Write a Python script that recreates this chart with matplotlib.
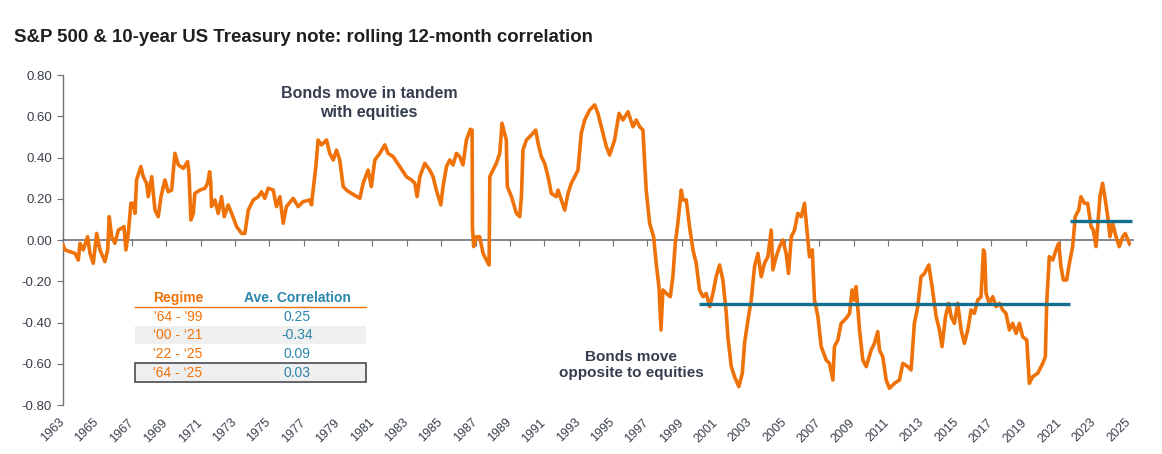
import matplotlib
matplotlib.use("Agg")
import matplotlib.pyplot as plt
import matplotlib.transforms as mtransforms
import numpy as np

plt.rcParams['font.family'] = ['Liberation Sans', 'DejaVu Sans']

# rolling 12-month correlation (x = position on the year axis)
years_a = [1963.00, 1963.12, 1963.41, 1963.70, 1963.89, 1963.99, 1964.18, 1964.43, 1964.57, 1964.76,
           1964.96, 1965.15, 1965.44, 1965.60, 1965.69, 1965.83, 1966.02, 1966.22, 1966.41, 1966.55,
           1966.66, 1966.80, 1966.95, 1967.09, 1967.19, 1967.28, 1967.53, 1967.67, 1967.86, 1967.96,
           1968.16, 1968.35, 1968.54, 1968.70, 1968.93, 1969.12, 1969.32, 1969.51, 1969.71, 1970.00,
           1970.25, 1970.33, 1970.44, 1970.58, 1970.67, 1970.97, 1971.26, 1971.41, 1971.53, 1971.60,
           1971.64, 1971.84, 1972.03, 1972.22, 1972.38, 1972.61, 1972.81, 1973.10, 1973.39, 1973.58,
           1973.78, 1974.07, 1974.36, 1974.55, 1974.74, 1974.94, 1975.23, 1975.42, 1975.62, 1975.81]
corr_a = [-0.024, -0.048, -0.057, -0.065, -0.097, -0.016, -0.048, 0.016, -0.065, -0.113,
          0.032, -0.048, -0.105, -0.048, 0.113, 0.016, -0.016, 0.048, 0.057, 0.065,
          -0.048, 0.032, 0.178, 0.178, 0.129, 0.291, 0.356, 0.307, 0.275, 0.210,
          0.307, 0.145, 0.113, 0.210, 0.291, 0.234, 0.242, 0.420, 0.364, 0.347,
          0.380, 0.323, 0.097, 0.129, 0.226, 0.242, 0.251, 0.275, 0.331, 0.275,
          0.162, 0.194, 0.129, 0.210, 0.113, 0.170, 0.129, 0.065, 0.032, 0.032,
          0.145, 0.194, 0.210, 0.234, 0.202, 0.251, 0.242, 0.162, 0.210, 0.081]

years_b = [1976.00, 1976.39, 1976.68, 1976.97, 1977.36, 1977.46, 1977.55, 1977.71, 1977.84, 1978.04,
           1978.33, 1978.52, 1978.72, 1978.91, 1979.10, 1979.30, 1979.49, 1979.78, 1980.27, 1980.46,
           1980.75, 1980.94, 1981.14, 1981.43, 1981.72, 1981.91, 1982.21, 1982.59, 1982.98, 1983.27,
           1983.47, 1983.60, 1983.76, 1984.05, 1984.34, 1984.53, 1984.72, 1984.98, 1985.11, 1985.31,
           1985.50, 1985.69, 1985.89, 1986.08, 1986.27, 1986.47, 1986.70, 1986.80, 1986.82, 1986.89,
           1987.05, 1987.24, 1987.44, 1987.63, 1987.79, 1987.83, 1988.02, 1988.21, 1988.41, 1988.54]
corr_b = [0.162, 0.202, 0.162, 0.186, 0.194, 0.170, 0.242, 0.356, 0.485, 0.461,
          0.485, 0.420, 0.388, 0.436, 0.388, 0.259, 0.242, 0.226, 0.202, 0.275,
          0.339, 0.259, 0.388, 0.420, 0.461, 0.420, 0.404, 0.356, 0.307, 0.291,
          0.275, 0.210, 0.307, 0.372, 0.339, 0.307, 0.242, 0.170, 0.259, 0.356,
          0.388, 0.364, 0.420, 0.404, 0.364, 0.485, 0.537, 0.533, 0.065, -0.032,
          0.016, 0.016, -0.065, -0.097, -0.121, 0.307, 0.339, 0.372, 0.420, 0.566]

years_c = [1988.79, 1988.85, 1989.09, 1989.38, 1989.57, 1989.67, 1989.76, 1989.96, 1990.25, 1990.50,
           1990.64, 1990.83, 1991.02, 1991.22, 1991.41, 1991.70, 1991.80, 1991.99, 1992.19, 1992.38,
           1992.57, 1992.77, 1992.96, 1993.15, 1993.35, 1993.64, 1993.93, 1994.12, 1994.32, 1994.61,
           1994.80, 1995.09, 1995.35, 1995.58, 1995.87, 1996.16, 1996.35, 1996.55, 1996.74, 1996.84,
           1996.93, 1997.13, 1997.36, 1997.51, 1997.67, 1997.79, 1997.90, 1998.10, 1998.33, 1998.48,
           1998.62, 1998.77, 1998.97, 1999.07, 1999.26, 1999.45, 1999.65, 1999.84, 2000.03, 2000.23,
           2000.42, 2000.62, 2000.81, 2001.00, 2001.20, 2001.39, 2001.59]
corr_c = [0.485, 0.259, 0.210, 0.129, 0.113, 0.210, 0.436, 0.485, 0.509, 0.533,
          0.469, 0.404, 0.372, 0.307, 0.226, 0.210, 0.242, 0.194, 0.145, 0.226,
          0.275, 0.307, 0.339, 0.517, 0.582, 0.630, 0.655, 0.614, 0.549, 0.453,
          0.412, 0.485, 0.614, 0.582, 0.622, 0.549, 0.582, 0.549, 0.533, 0.372,
          0.242, 0.081, 0.016, -0.113, -0.226, -0.436, -0.242, -0.259, -0.275, -0.178,
          -0.016, 0.081, 0.242, 0.194, 0.194, 0.065, -0.048, -0.113, -0.242, -0.275,
          -0.259, -0.323, -0.259, -0.178, -0.121, -0.194, -0.356]

years_d = [2001.68, 2001.88, 2002.07, 2002.32, 2002.52, 2002.65, 2002.85, 2003.04, 2003.23, 2003.43,
           2003.62, 2003.81, 2004.01, 2004.20, 2004.30, 2004.49, 2004.69, 2004.88, 2005.07, 2005.21,
           2005.37, 2005.56, 2005.75, 2005.95, 2006.14, 2006.28, 2006.43, 2006.59, 2006.72, 2006.92,
           2007.11, 2007.40, 2007.59, 2007.79, 2007.88, 2008.08, 2008.27, 2008.56, 2008.76, 2008.91,
           2009.05, 2009.14, 2009.34, 2009.53, 2009.73, 2010.02, 2010.21, 2010.40, 2010.50, 2010.69,
           2010.89, 2011.08, 2011.37, 2011.66, 2011.86, 2012.15, 2012.34, 2012.53, 2012.73, 2012.92,
           2013.12, 2013.37, 2013.56, 2013.80, 2013.99, 2014.14, 2014.34, 2014.53]
corr_d = [-0.469, -0.614, -0.663, -0.711, -0.646, -0.501, -0.388, -0.291, -0.129, -0.065,
          -0.178, -0.113, -0.081, 0.048, -0.145, -0.081, -0.032, 0.000, -0.065, -0.162,
          0.016, 0.048, 0.129, 0.113, 0.178, 0.048, -0.081, -0.048, -0.291, -0.372,
          -0.517, -0.582, -0.598, -0.679, -0.517, -0.485, -0.404, -0.380, -0.356, -0.242,
          -0.291, -0.226, -0.436, -0.582, -0.614, -0.533, -0.501, -0.444, -0.533, -0.566,
          -0.679, -0.719, -0.695, -0.679, -0.598, -0.614, -0.630, -0.404, -0.323, -0.178,
          -0.162, -0.121, -0.226, -0.372, -0.436, -0.517, -0.372, -0.307]

years_e = [2014.67, 2014.86, 2015.05, 2015.25, 2015.44, 2015.64, 2015.83, 2016.02, 2016.22, 2016.41,
           2016.55, 2016.62, 2016.70, 2016.89, 2017.09, 2017.28, 2017.48, 2017.67, 2017.86, 2018.06,
           2018.25, 2018.45, 2018.64, 2018.83, 2019.07, 2019.22, 2019.41, 2019.71, 2020.00, 2020.15,
           2020.23, 2020.38, 2020.58, 2020.77, 2020.93, 2021.06, 2021.20, 2021.39, 2021.55, 2021.74,
           2021.89, 2022.09, 2022.22, 2022.42, 2022.61, 2022.81, 2022.94, 2023.10, 2023.19, 2023.33,
           2023.48, 2023.64, 2023.78, 2023.91, 2024.07, 2024.26, 2024.45, 2024.65, 2024.80, 2025.03]
corr_e = [-0.372, -0.404, -0.307, -0.436, -0.501, -0.436, -0.339, -0.356, -0.291, -0.275,
          -0.048, -0.065, -0.259, -0.307, -0.275, -0.323, -0.307, -0.339, -0.356, -0.436,
          -0.404, -0.453, -0.404, -0.469, -0.485, -0.695, -0.663, -0.646, -0.598, -0.566,
          -0.307, -0.081, -0.097, -0.048, -0.016, -0.129, -0.194, -0.194, -0.113, -0.032,
          0.113, 0.145, 0.210, 0.178, 0.178, 0.065, 0.048, -0.032, 0.065, 0.210,
          0.275, 0.194, 0.113, 0.016, 0.081, 0.016, -0.032, 0.016, 0.032, -0.016]

# regime average lines as drawn on the chart
regime_start = [2000.03, 2021.6]
regime_end = [2021.6, 2025.2]
regime_level = [-0.31, 0.09]

# table
table_regimes = ["'64 - '99", "\u201800 - \u201821", "'22 - \u201825", "'64 - \u201825"]
table_corr = ["0.25", "-0.34", "0.09", "0.03"]

year_ticks = list(range(1963, 2026, 2))
y_ticks = [-0.8, -0.6, -0.4, -0.2, 0.0, 0.2, 0.4, 0.6, 0.8]
y_labels = ["-0.80", "-0.60", "-0.40", "-0.20", "0.00", "0.20", "0.40", "0.60", "0.80"]

ORANGE = "#EF7208"
TEAL_LINE = "#12708F"
TEAL_TEXT = "#2A86AB"
DARK = "#353D4E"
GRAY = "#6E707A"

W, H = 1162, 454
fig = plt.figure(figsize=(W / 100, H / 100), dpi=100)
ax = fig.add_axes([63 / W, 1 - 405 / H, (1133 - 63) / W, (405 - 75) / H])

years = np.concatenate([years_a, years_b, years_c, years_d, years_e])
corr = np.concatenate([corr_a, corr_b, corr_c, corr_d, corr_e])
ax.plot(years, corr, color=ORANGE, lw=2.6, solid_joinstyle='round', zorder=3)

for x0, x1, lvl in zip(regime_start, regime_end, regime_level):
    ax.plot([x0, x1], [lvl, lvl], color=TEAL_LINE, lw=2.4, solid_capstyle='butt', zorder=4)

ax.set_xlim(1963, 2025.25)
ax.set_ylim(-0.8, 0.8)
ax.set_yticks(y_ticks)
ax.set_yticklabels(y_labels)

ax.spines['top'].set_visible(False)
ax.spines['right'].set_visible(False)
ax.spines['left'].set_color(GRAY)
ax.spines['left'].set_linewidth(1.0)
ax.spines['bottom'].set_position(('data', 0))
ax.spines['bottom'].set_color(GRAY)
ax.spines['bottom'].set_linewidth(1.2)

ax.set_xticks(year_ticks)
ax.set_xticklabels([str(y) for y in year_ticks], rotation=45, ha='right', va='top')
ax.tick_params(axis='x', direction='out', length=4, color=GRAY, pad=123,
               labelsize=9, labelcolor="#3A3F4C")
# nudge the rotated year labels a little right so they end at their tick
shift = mtransforms.ScaledTranslation(4 / 100, 0, fig.dpi_scale_trans)
for lbl in ax.get_xticklabels():
    lbl.set_transform(lbl.get_transform() + shift)
ax.tick_params(axis='y', direction='out', length=4, color=GRAY, pad=4,
               labelsize=9.5, labelcolor="#3A3F4C")

fig.text(14 / W, 1 - 38 / H, "S&P 500 & 10-year US Treasury note: rolling 12-month correlation",
         fontsize=13.4, fontweight='bold', color="#1F1F1F", va='center', ha='left')

fig.text(369 / W, 1 - 103 / H, "Bonds move in tandem\nwith equities", fontsize=11.5,
         fontweight='bold', color=DARK, ha='center', va='center', linespacing=1.25)
fig.text(631 / W, 1 - 365 / H, "Bonds move\nopposite to equities", fontsize=11,
         fontweight='bold', color=DARK, ha='center', va='center', linespacing=1.25)

# table drawn in figure pixels
def fx(x):
    return x / W

def fy(y):
    return 1 - y / H

tx0, tx1 = 135, 366
col1, col2 = 178, 297
fig.text(fx(col1), fy(298), "Regime", fontsize=10, fontweight='bold', color=ORANGE, ha='center', va='center')
fig.text(fx(col2), fy(298), "Ave. Correlation", fontsize=10, fontweight='bold', color=TEAL_TEXT,
         ha='center', va='center')
fig.add_artist(plt.Line2D([fx(tx0), fx(tx1)], [fy(307), fy(307)], color=ORANGE, lw=1.0))
fig.add_artist(plt.Rectangle((fx(tx0), fy(344)), fx(tx1 - tx0), (344 - 326) / H,
                             facecolor="#EFEFEF", edgecolor='none'))
fig.add_artist(plt.Rectangle((fx(tx0), fy(382)), fx(tx1 - tx0), (382 - 363) / H,
                             facecolor="#EFEFEF", edgecolor="#4A4A52", lw=1.2))
row_y = [317, 335, 354, 373]
for yy, reg, val in zip(row_y, table_regimes, table_corr):
    fig.text(fx(col1), fy(yy), reg, fontsize=10, color=ORANGE, ha='center', va='center')
    fig.text(fx(col2), fy(yy), val, fontsize=10, color=TEAL_TEXT, ha='center', va='center')

fig.savefig("out.png", dpi=100)
